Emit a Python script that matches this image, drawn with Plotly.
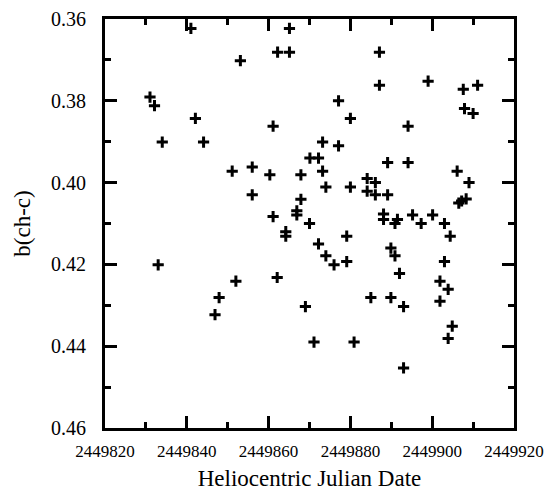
import plotly.graph_objects as go

hjd = [2449841.0, 2449865.1, 2449862.2, 2449865.1, 2449853.1, 2449831.0, 2449832.1, 2449842.1,
       2449861.1, 2449834.0, 2449844.1, 2449870.1, 2449872.2, 2449851.1, 2449856.0, 2449860.3,
       2449867.9, 2449856.0, 2449867.9, 2449866.9, 2449866.9, 2449861.1, 2449870.0, 2449887.1,
       2449887.1, 2449899.0, 2449907.6, 2449911.1, 2449877.1, 2449880.0, 2449907.9, 2449910.0,
       2449894.1, 2449873.2, 2449877.1, 2449873.2, 2449889.1, 2449894.1, 2449874.0, 2449880.0,
       2449884.1, 2449886.1, 2449884.1, 2449886.1, 2449889.1, 2449906.1, 2449909.0, 2449906.5,
       2449907.2, 2449908.3, 2449888.1, 2449888.1, 2449891.5, 2449890.9, 2449895.2, 2449897.3,
       2449900.1, 2449903.0, 2449879.1, 2449904.4, 2449872.2, 2449889.9, 2449890.9, 2449874.0,
       2449876.0, 2449879.1, 2449903.0, 2449892.0, 2449901.9, 2449903.9, 2449885.0, 2449889.9,
       2449893.0, 2449901.9, 2449904.9, 2449903.9, 2449871.1, 2449880.9, 2449893.0, 2449864.2,
       2449864.2, 2449833.0, 2449852.0, 2449847.9, 2449846.9, 2449862.1, 2449869.0]
b_chc = [0.3623, 0.3623, 0.3681, 0.3681, 0.3702, 0.3791, 0.3812, 0.3843,
         0.3862, 0.3901, 0.3901, 0.3940, 0.3940, 0.3972, 0.3962, 0.3981,
         0.3981, 0.4030, 0.4041, 0.4069, 0.4079, 0.4083, 0.4100, 0.3681,
         0.3762, 0.3752, 0.3772, 0.3762, 0.3800, 0.3843, 0.3819, 0.3831,
         0.3862, 0.3901, 0.3910, 0.3972, 0.3951, 0.3951, 0.4011, 0.4011,
         0.3990, 0.4000, 0.4021, 0.4030, 0.4030, 0.3972, 0.4000, 0.4050,
         0.4045, 0.4040, 0.4077, 0.4090, 0.4090, 0.4100, 0.4079, 0.4100,
         0.4079, 0.4100, 0.4131, 0.4131, 0.4150, 0.4160, 0.4179, 0.4179,
         0.4201, 0.4193, 0.4193, 0.4222, 0.4241, 0.4261, 0.4281, 0.4281,
         0.4303, 0.4290, 0.4351, 0.4381, 0.4390, 0.4390, 0.4453, 0.4120,
         0.4131, 0.4201, 0.4241, 0.4281, 0.4323, 0.4232, 0.4303]

x_ticks = [2449820, 2449840, 2449860, 2449880, 2449900, 2449920]
y_ticks = [0.36, 0.38, 0.40, 0.42, 0.44, 0.46]

font_family = "Liberation Serif, Times New Roman, serif"

fig = go.Figure()
fig.add_trace(go.Scatter(
    x=hjd, y=b_chc, mode="markers",
    marker=dict(symbol="cross-thin", size=8, line=dict(width=3, color="black"), color="black"),
    showlegend=False,
))

axis_common = dict(
    showline=True, linecolor="black", linewidth=3, mirror="ticks",
    ticks="inside", ticklen=12, tickwidth=3, tickcolor="black",
    showgrid=False, zeroline=False, automargin=False,
)

fig.update_xaxes(
    range=[2449820, 2449920], tickvals=x_ticks, ticktext=[str(v) for v in x_ticks],
    tickfont=dict(family=font_family, size=17, color="black"),
    ticklabelstandoff=6,
    title=dict(text="Heliocentric Julian Date", font=dict(family=font_family, size=23, color="black"), standoff=10),
    minor=dict(dtick=10, tick0=2449820, ticks="inside", ticklen=6, tickwidth=3, tickcolor="black"),
    **axis_common,
)
fig.update_yaxes(
    range=[0.46, 0.36], tickvals=y_ticks, ticktext=[f"{v:.2f}" for v in y_ticks],
    tickfont=dict(family=font_family, size=20, color="black"),
    ticklabelstandoff=12,
    title=dict(text="b(ch-c)", font=dict(family=font_family, size=23, color="black"), standoff=14),
    minor=dict(dtick=0.01, tick0=0.36, ticks="inside", ticklen=6, tickwidth=3, tickcolor="black"),
    **axis_common,
)

fig.update_layout(
    width=551, height=494,
    margin=dict(l=105, r=37, t=19, b=66),
    plot_bgcolor="white", paper_bgcolor="white",
    font=dict(family=font_family, color="black"),
)

fig.write_html("out.html")
